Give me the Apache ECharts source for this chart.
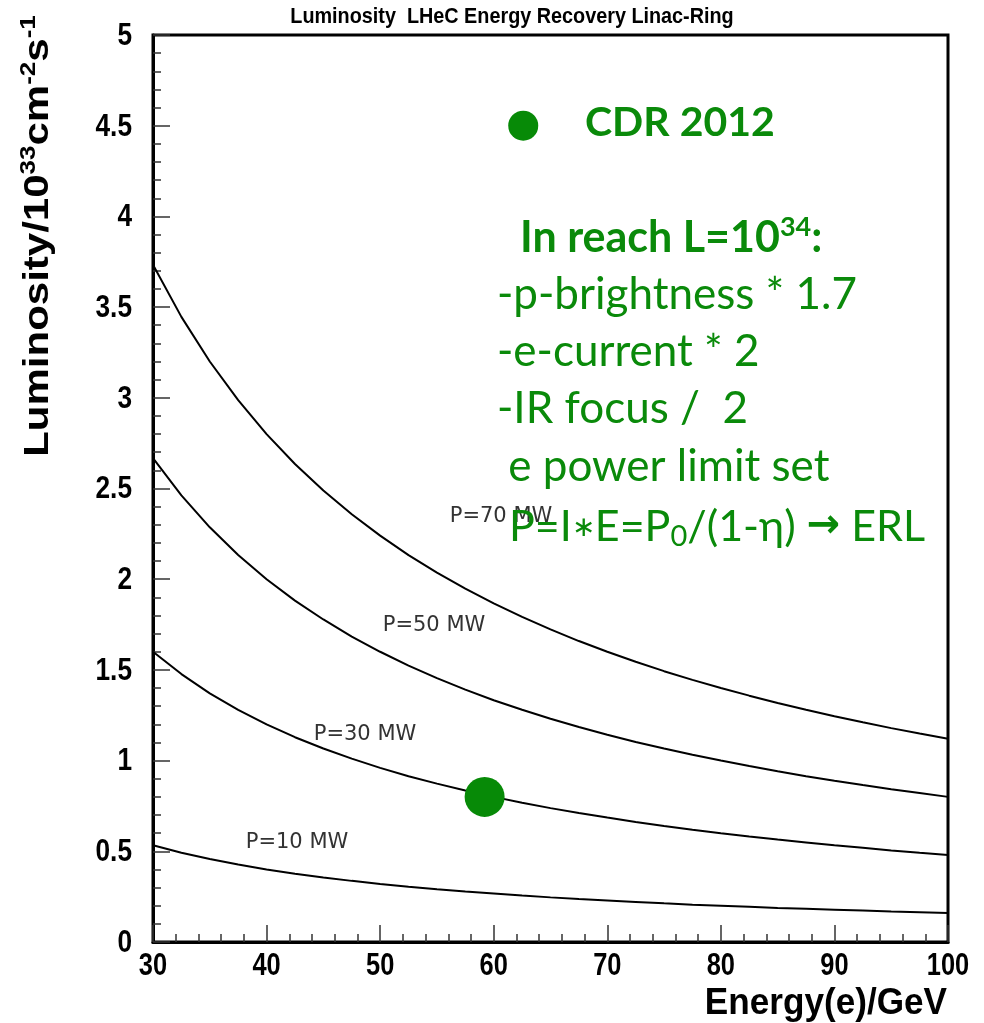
<!DOCTYPE html>
<html><head><meta charset="utf-8">
<script src="https://cdn.jsdelivr.net/npm/echarts@6/dist/echarts.min.js"></script>
<style>html,body{margin:0;padding:0;background:#fff}#c{width:984px;height:1023px}</style>
</head><body><div id="c"></div>
<script>
// Data
const energy = [30,32.5,35,37.5,40,42.5,45,47.5,50,52.5,55,57.5,60,62.5,65,67.5,70,72.5,75,77.5,80,82.5,85,87.5,90,92.5,95,97.5,100];
const lumi10 = [0.533,0.492,0.457,0.427,0.400,0.376,0.356,0.337,0.320,0.305,0.291,0.278,0.267,0.256,0.246,0.237,0.229,0.221,0.213,0.206,0.200,0.194,0.188,0.183,0.178,0.173,0.168,0.164,0.160];
const lumi30 = [1.600,1.477,1.371,1.280,1.200,1.129,1.067,1.011,0.960,0.914,0.873,0.835,0.800,0.768,0.738,0.711,0.686,0.662,0.640,0.619,0.600,0.582,0.565,0.549,0.533,0.519,0.505,0.492,0.480];
const lumi50 = [2.667,2.462,2.286,2.133,2.000,1.882,1.778,1.684,1.600,1.524,1.455,1.391,1.333,1.280,1.231,1.185,1.143,1.103,1.067,1.032,1.000,0.970,0.941,0.914,0.889,0.865,0.842,0.821,0.800];
const lumi70 = [3.733,3.446,3.200,2.987,2.800,2.635,2.489,2.358,2.240,2.133,2.036,1.948,1.867,1.792,1.723,1.659,1.600,1.545,1.493,1.445,1.400,1.358,1.318,1.280,1.244,1.211,1.179,1.149,1.120];
const curveNames = ['P=10 MW','P=30 MW','P=50 MW','P=70 MW'];
const cdrPoint = [59.2, 0.80];
const legendDot = [62.6, 4.50];
const xTicks = [30,40,50,60,70,80,90,100];
const yTicks = [0,0.5,1,1.5,2,2.5,3,3.5,4,4.5,5];
const titleText = 'Luminosity  LHeC Energy Recovery Linac-Ring';
const noteLines = ['-p-brightness * 1.7','-e-current * 2','-IR focus /  2',' e power limit set'];

const GREEN = '#078a07';
const GREENT = '#0a8a0a';
const bold = "'Liberation Sans', Arial, sans-serif";
const noteFont = "Lato, 'Open Sans', sans-serif";
const thin = "'DejaVu Sans ExtraLight', 'DejaVu Sans', sans-serif";

const chart = echarts.init(document.getElementById('c'), null, {renderer:'canvas'});
const zip = arr => energy.map((e,i)=>[e,arr[i]]);
const curves = [lumi10,lumi30,lumi50,lumi70];

const curveLabelPos = [[297,843],[365,735],[434,626],[501,517]];
const graphics = [];
graphics.push({type:'text', x:512, y:17, scaleX:0.90, style:{text:titleText, x:0, y:0, align:'center', verticalAlign:'middle', font:"bold 22px "+bold, fill:'#000'}, z:10});
curveNames.forEach((n,i)=>{
  graphics.push({type:'text', style:{text:n, x:curveLabelPos[i][0], y:curveLabelPos[i][1], align:'center', verticalAlign:'middle', font:"21px "+thin, fill:'#333'}, z:5});
});
graphics.push({type:'text', rotation:Math.PI/2, x:38, y:236, scaleY:0.83, style:{
  text:'{a|Luminosity/10}{s|33}{a|cm}{s|-2}{a|s}{s|-1}', x:0, y:0, align:'center', verticalAlign:'middle',
  rich:{a:{fontFamily:bold, fontWeight:'bold', fontSize:42, lineHeight:48, fill:'#000'},
        s:{fontFamily:bold, fontWeight:'bold', fontSize:26, verticalAlign:'top', fill:'#000'}}}, z:10});
graphics.push({type:'text', x:947, y:1004, scaleX:0.95, style:{text:'Energy(e)/GeV', x:0, y:0, align:'right', verticalAlign:'middle', font:"bold 37px "+bold, fill:'#000'}, z:10});
graphics.push({type:'text', style:{text:'CDR 2012', x:585, y:123, align:'left', verticalAlign:'middle', font:"bold 41px "+noteFont, fill:GREENT}, z:20});
graphics.push({type:'text', style:{x:520, y:238, align:'left', verticalAlign:'middle',
  text:'{a|In reach L=10}{s|34}{a|:}',
  rich:{a:{fontFamily:noteFont, fontWeight:'bold', fontSize:43, lineHeight:48, fill:GREENT},
        s:{fontFamily:noteFont, fontWeight:'bold', fontSize:27, verticalAlign:'top', fill:GREENT}}}, z:20});
const noteX = [497,497,497,497];
const noteY = [295,352,409,467];
noteLines.forEach((t,i)=>{
  graphics.push({type:'text', style:{text:t, x:noteX[i], y:noteY[i], align:'left', verticalAlign:'middle', font:"44px "+noteFont, fill:GREENT}, z:20});
});
graphics.push({type:'text', style:{x:509, y:527, align:'left', verticalAlign:'middle',
  text:'{a|P=I}{m|∗}{a|E=P}{b|0}{a|/(1-η) }{r|→}{a| ERL}',
  rich:{a:{fontFamily:noteFont, fontSize:43, lineHeight:48, fill:GREENT},
        m:{fontFamily:noteFont, fontSize:28, fill:GREENT},
        r:{fontFamily:"'DejaVu Sans', sans-serif", fontWeight:'bold', fontSize:40, fill:GREENT},
        b:{fontFamily:noteFont, fontSize:29, verticalAlign:'bottom', fill:GREENT}}}, z:20});

const option = {
  backgroundColor:'#fff',
  animation:false,
  grid:{left:153, right:36, top:35, bottom:81, show:true, borderColor:'#000', borderWidth:3, backgroundColor:'transparent'},
  xAxis:{type:'value', min:30, max:100, interval:10,
    axisLine:{show:true, onZero:false, lineStyle:{color:'#000', width:3}},
    axisTick:{show:true, inside:true, length:17, lineStyle:{color:'#333', width:1.5}},
    minorTick:{show:true, splitNumber:5, length:8, lineStyle:{color:'#333', width:1.5}},
    splitLine:{show:false},
    axisLabel:{show:false}},
  yAxis:{type:'value', min:0, max:5, interval:0.5,
    axisLine:{show:true, onZero:false, lineStyle:{color:'#000', width:3}},
    axisTick:{show:true, inside:true, length:17, lineStyle:{color:'#333', width:1.5}},
    minorTick:{show:true, splitNumber:5, length:8, lineStyle:{color:'#333', width:1.5}},
    splitLine:{show:false},
    axisLabel:{show:false}},
  series:[
    ...curves.map((c,i)=>({type:'line', name:curveNames[i], data:zip(c), symbol:'none', smooth:false,
      lineStyle:{color:'#000', width:2}, z:3})),
    {type:'scatter', name:'CDR 2012', data:[cdrPoint, legendDot], symbolSize:(v,p)=> p.dataIndex===0?40:30,
      itemStyle:{color:GREEN, opacity:1}, z:6}
  ],
  graphic:graphics
};
chart.setOption(option);

// Tick labels placed through the axes' own scales (condensed bold like the original)
const x0 = chart.convertToPixel({xAxisIndex:0}, 30);
const y0 = chart.convertToPixel({yAxisIndex:0}, 0);
const tickLabels = [];
xTicks.forEach(v=>{
  tickLabels.push({type:'text', x:chart.convertToPixel({xAxisIndex:0}, v), y:y0+24, scaleX:0.82,
    style:{text:String(v), x:0, y:0, align:'center', verticalAlign:'middle', font:"bold 31px "+bold, fill:'#000'}, z:10});
});
yTicks.forEach(v=>{
  tickLabels.push({type:'text', x:x0-21, y:chart.convertToPixel({yAxisIndex:0}, v)+1, scaleX:0.82,
    style:{text:String(v), x:0, y:0, align:'right', verticalAlign:'middle', font:"bold 32px "+bold, fill:'#000'}, z:10});
});
chart.setOption({graphic: graphics.concat(tickLabels)});
</script></body></html>
